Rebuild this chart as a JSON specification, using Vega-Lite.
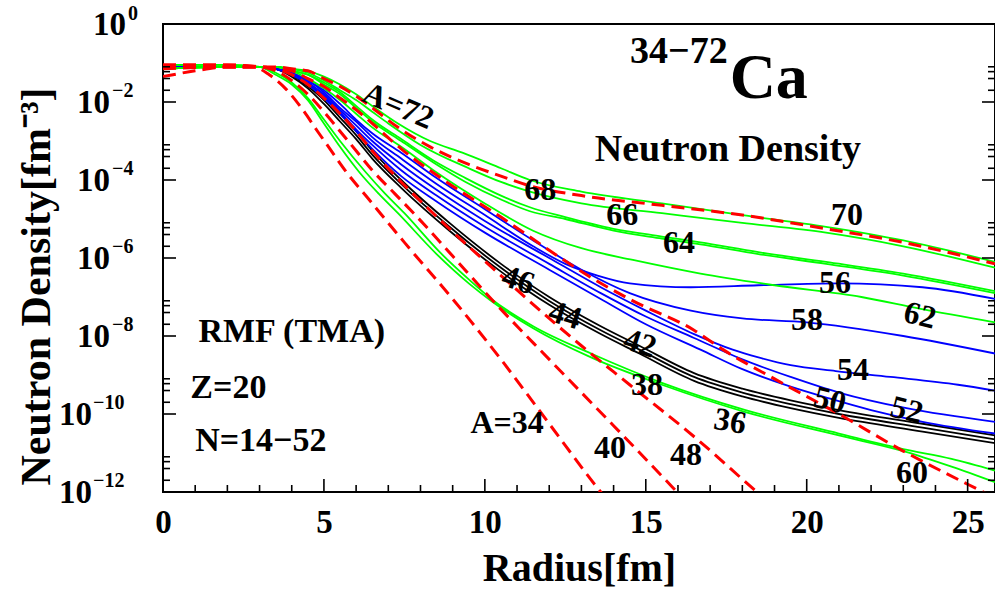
{
  "$schema": "https://vega.github.io/schema/vega-lite/v6.json",
  "width": 832,
  "height": 468,
  "autosize": "none",
  "padding": {"left": 163, "top": 24, "right": 0, "bottom": 98},
  "background": "white",
  "config": {"view": {"stroke": "black", "strokeWidth": 2}},
  "datasets": {
    "curves": [
      {"A":34,"r":0,"d":4.47e-2},{"A":34,"r":1,"d":6.31e-2},{"A":34,"r":2,"d":7.94e-2},{"A":34,"r":2.8,"d":7.94e-2},{"A":34,"r":3.3,"d":5.01e-2},{"A":34,"r":3.8,"d":2.24e-2},{"A":34,"r":4.3,"d":7.08e-3},{"A":34,"r":4.8,"d":1.78e-3},{"A":34,"r":5.1,"d":7.94e-4},{"A":34,"r":5.7,"d":1.58e-4},{"A":34,"r":6.35,"d":3.55e-5},{"A":34,"r":7.5,"d":2.51e-6},{"A":34,"r":9,"d":8.91e-8},{"A":34,"r":10.5,"d":2.51e-9},{"A":34,"r":12,"d":5.62e-11},{"A":34,"r":13.6,"d":1e-12},{"A":34,"r":14,"d":3.98e-13},
      {"A":36,"r":0,"d":8.91e-2},{"A":36,"r":2,"d":8.91e-2},{"A":36,"r":3,"d":7.94e-2},{"A":36,"r":3.5,"d":5.01e-2},{"A":36,"r":4,"d":2.82e-2},{"A":36,"r":4.5,"d":1.12e-2},{"A":36,"r":5,"d":2.82e-3},{"A":36,"r":5.5,"d":7.08e-4},{"A":36,"r":6.1,"d":1.58e-4},{"A":36,"r":6.7,"d":4.47e-5},{"A":36,"r":7.3,"d":1.41e-5},{"A":36,"r":8.5,"d":1.26e-6},{"A":36,"r":9.5,"d":2.24e-7},{"A":36,"r":10.2,"d":7.94e-8},{"A":36,"r":11.5,"d":1.58e-8},{"A":36,"r":13.3,"d":2.82e-9},{"A":36,"r":15.5,"d":5.62e-10},{"A":36,"r":18.1,"d":1.12e-10},{"A":36,"r":21,"d":2.82e-11},{"A":36,"r":23,"d":1.12e-11},{"A":36,"r":24.5,"d":4.47e-12},{"A":36,"r":25.85,"d":1.78e-12},
      {"A":38,"r":0,"d":8.91e-2},{"A":38,"r":2,"d":8.91e-2},{"A":38,"r":3,"d":7.94e-2},{"A":38,"r":3.5,"d":5.62e-2},{"A":38,"r":4,"d":3.16e-2},{"A":38,"r":4.5,"d":1.26e-2},{"A":38,"r":5,"d":3.55e-3},{"A":38,"r":5.5,"d":1e-3},{"A":38,"r":6.3,"d":1.58e-4},{"A":38,"r":6.9,"d":4.47e-5},{"A":38,"r":7.5,"d":1.41e-5},{"A":38,"r":8.6,"d":1.41e-6},{"A":38,"r":9.5,"d":2.82e-7},{"A":38,"r":10.2,"d":8.91e-8},{"A":38,"r":11.5,"d":1.78e-8},{"A":38,"r":13.3,"d":3.55e-9},{"A":38,"r":15.5,"d":6.31e-10},{"A":38,"r":18.1,"d":1.26e-10},{"A":38,"r":21,"d":3.16e-11},{"A":38,"r":23,"d":1.26e-11},{"A":38,"r":24.5,"d":7.08e-12},{"A":38,"r":25.85,"d":3.55e-12},
      {"A":40,"r":0,"d":8.91e-2},{"A":40,"r":2,"d":8.91e-2},{"A":40,"r":3,"d":7.94e-2},{"A":40,"r":3.5,"d":6.31e-2},{"A":40,"r":4,"d":3.55e-2},{"A":40,"r":4.5,"d":1.58e-2},{"A":40,"r":5,"d":5.62e-3},{"A":40,"r":5.5,"d":1.78e-3},{"A":40,"r":6,"d":5.62e-4},{"A":40,"r":6.5,"d":1.78e-4},{"A":40,"r":7.2,"d":4.47e-5},{"A":40,"r":7.9,"d":1.12e-5},{"A":40,"r":9,"d":1.12e-6},{"A":40,"r":10.2,"d":8.91e-8},{"A":40,"r":12,"d":2.51e-9},{"A":40,"r":14,"d":5.01e-11},{"A":40,"r":15.8,"d":1.41e-12},{"A":40,"r":16.2,"d":6.31e-13},
      {"A":42,"r":0,"d":7.94e-2},{"A":42,"r":2,"d":7.94e-2},{"A":42,"r":3,"d":7.94e-2},{"A":42,"r":3.5,"d":7.08e-2},{"A":42,"r":4,"d":4.47e-2},{"A":42,"r":4.5,"d":2.24e-2},{"A":42,"r":5,"d":8.91e-3},{"A":42,"r":5.5,"d":3.16e-3},{"A":42,"r":6,"d":1.12e-3},{"A":42,"r":6.5,"d":3.55e-4},{"A":42,"r":7.4,"d":6.31e-5},{"A":42,"r":8.9,"d":5.01e-6},{"A":42,"r":10.5,"d":4.47e-7},{"A":42,"r":12,"d":6.31e-8},{"A":42,"r":13.6,"d":1.12e-8},{"A":42,"r":14.8,"d":3.55e-9},{"A":42,"r":16.5,"d":7.08e-10},{"A":42,"r":18,"d":2.82e-10},{"A":42,"r":19.5,"d":1.41e-10},{"A":42,"r":21,"d":7.94e-11},{"A":42,"r":23.6,"d":3.55e-11},{"A":42,"r":25.85,"d":1.78e-11},
      {"A":44,"r":0,"d":7.94e-2},{"A":44,"r":2,"d":7.94e-2},{"A":44,"r":3,"d":7.94e-2},{"A":44,"r":3.5,"d":7.08e-2},{"A":44,"r":4,"d":5.01e-2},{"A":44,"r":4.5,"d":2.51e-2},{"A":44,"r":5,"d":1.12e-2},{"A":44,"r":5.5,"d":3.98e-3},{"A":44,"r":6,"d":1.41e-3},{"A":44,"r":6.5,"d":4.47e-4},{"A":44,"r":7.4,"d":7.94e-5},{"A":44,"r":8.9,"d":6.31e-6},{"A":44,"r":10.5,"d":5.62e-7},{"A":44,"r":12,"d":7.94e-8},{"A":44,"r":13.6,"d":1.41e-8},{"A":44,"r":14.8,"d":4.47e-9},{"A":44,"r":16.5,"d":8.91e-10},{"A":44,"r":18,"d":3.55e-10},{"A":44,"r":19.5,"d":1.78e-10},{"A":44,"r":21,"d":1e-10},{"A":44,"r":23.6,"d":4.47e-11},{"A":44,"r":25.85,"d":2.24e-11},
      {"A":46,"r":0,"d":7.94e-2},{"A":46,"r":2,"d":7.94e-2},{"A":46,"r":3,"d":7.94e-2},{"A":46,"r":3.5,"d":7.08e-2},{"A":46,"r":4,"d":5.62e-2},{"A":46,"r":4.5,"d":2.82e-2},{"A":46,"r":5,"d":1.41e-2},{"A":46,"r":5.5,"d":5.01e-3},{"A":46,"r":6,"d":1.78e-3},{"A":46,"r":6.5,"d":5.62e-4},{"A":46,"r":7.4,"d":1e-4},{"A":46,"r":8.9,"d":7.94e-6},{"A":46,"r":10.5,"d":7.08e-7},{"A":46,"r":12,"d":1e-7},{"A":46,"r":13.6,"d":1.78e-8},{"A":46,"r":14.8,"d":5.62e-9},{"A":46,"r":16.5,"d":1.12e-9},{"A":46,"r":18,"d":4.47e-10},{"A":46,"r":19.5,"d":2.24e-10},{"A":46,"r":21,"d":1.26e-10},{"A":46,"r":23.6,"d":5.62e-11},{"A":46,"r":25.85,"d":2.82e-11},
      {"A":48,"r":0,"d":8.91e-2},{"A":48,"r":2,"d":8.91e-2},{"A":48,"r":3,"d":7.94e-2},{"A":48,"r":3.5,"d":7.08e-2},{"A":48,"r":4,"d":5.01e-2},{"A":48,"r":4.5,"d":2.82e-2},{"A":48,"r":5,"d":1.26e-2},{"A":48,"r":5.5,"d":5.01e-3},{"A":48,"r":6,"d":1.78e-3},{"A":48,"r":6.5,"d":5.62e-4},{"A":48,"r":7.4,"d":8.91e-5},{"A":48,"r":8.2,"d":2.0e-5},{"A":48,"r":8.9,"d":5.62e-6},{"A":48,"r":10.5,"d":3.55e-7},{"A":48,"r":12,"d":2.82e-8},{"A":48,"r":13,"d":5.62e-9},{"A":48,"r":14.5,"d":5.62e-10},{"A":48,"r":16.6,"d":2.24e-11},{"A":48,"r":18.45,"d":1e-12},{"A":48,"r":18.8,"d":5.62e-13},
      {"A":50,"r":0,"d":7.94e-2},{"A":50,"r":2,"d":7.94e-2},{"A":50,"r":3,"d":7.94e-2},{"A":50,"r":3.5,"d":7.08e-2},{"A":50,"r":4,"d":5.01e-2},{"A":50,"r":4.5,"d":2.82e-2},{"A":50,"r":5,"d":1.26e-2},{"A":50,"r":5.5,"d":5.01e-3},{"A":50,"r":6,"d":1.78e-3},{"A":50,"r":6.5,"d":6.31e-4},{"A":50,"r":7.4,"d":1.26e-4},{"A":50,"r":8.5,"d":2.82e-5},{"A":50,"r":10,"d":4.47e-6},{"A":50,"r":12,"d":5.01e-7},{"A":50,"r":13.6,"d":8.91e-8},{"A":50,"r":15,"d":2.0e-8},{"A":50,"r":16.7,"d":4.47e-9},{"A":50,"r":18,"d":1.41e-9},{"A":50,"r":19.5,"d":5.01e-10},{"A":50,"r":20.7,"d":2.51e-10},{"A":50,"r":22,"d":1.26e-10},{"A":50,"r":23.6,"d":6.31e-11},{"A":50,"r":25.85,"d":3.16e-11},
      {"A":52,"r":0,"d":7.94e-2},{"A":52,"r":2,"d":7.94e-2},{"A":52,"r":3,"d":7.94e-2},{"A":52,"r":3.5,"d":7.08e-2},{"A":52,"r":4,"d":5.01e-2},{"A":52,"r":4.5,"d":3.16e-2},{"A":52,"r":5,"d":1.41e-2},{"A":52,"r":5.5,"d":5.62e-3},{"A":52,"r":6,"d":2.0e-3},{"A":52,"r":6.5,"d":7.94e-4},{"A":52,"r":7.4,"d":1.78e-4},{"A":52,"r":8.5,"d":3.98e-5},{"A":52,"r":10,"d":6.31e-6},{"A":52,"r":12,"d":7.08e-7},{"A":52,"r":13.6,"d":1.26e-7},{"A":52,"r":15,"d":3.16e-8},{"A":52,"r":16.5,"d":8.91e-9},{"A":52,"r":18,"d":2.51e-9},{"A":52,"r":19.5,"d":8.91e-10},{"A":52,"r":21,"d":3.55e-10},{"A":52,"r":23.1,"d":1.41e-10},{"A":52,"r":25.85,"d":6.31e-11},
      {"A":54,"r":0,"d":7.94e-2},{"A":54,"r":2,"d":7.94e-2},{"A":54,"r":3,"d":7.94e-2},{"A":54,"r":3.5,"d":7.08e-2},{"A":54,"r":4,"d":5.62e-2},{"A":54,"r":4.5,"d":3.16e-2},{"A":54,"r":5,"d":1.58e-2},{"A":54,"r":5.5,"d":6.31e-3},{"A":54,"r":6,"d":2.51e-3},{"A":54,"r":6.5,"d":1e-3},{"A":54,"r":7.4,"d":2.51e-4},{"A":54,"r":8.5,"d":5.62e-5},{"A":54,"r":10,"d":8.91e-6},{"A":54,"r":12,"d":1e-6},{"A":54,"r":13.6,"d":1.78e-7},{"A":54,"r":15,"d":4.47e-8},{"A":54,"r":16.5,"d":1.12e-8},{"A":54,"r":17.7,"d":4.47e-9},{"A":54,"r":18.5,"d":2.82e-9},{"A":54,"r":19.5,"d":1.78e-9},{"A":54,"r":20.9,"d":1.26e-9},{"A":54,"r":22.6,"d":8.91e-10},{"A":54,"r":24.7,"d":5.62e-10},{"A":54,"r":25.85,"d":3.98e-10},
      {"A":56,"r":0,"d":7.94e-2},{"A":56,"r":2,"d":7.94e-2},{"A":56,"r":3,"d":7.94e-2},{"A":56,"r":3.5,"d":7.08e-2},{"A":56,"r":4,"d":5.62e-2},{"A":56,"r":4.5,"d":3.55e-2},{"A":56,"r":5,"d":1.78e-2},{"A":56,"r":5.5,"d":7.08e-3},{"A":56,"r":6,"d":3.16e-3},{"A":56,"r":6.5,"d":1.26e-3},{"A":56,"r":7.4,"d":3.55e-4},{"A":56,"r":8.5,"d":7.94e-5},{"A":56,"r":10,"d":1.26e-5},{"A":56,"r":11.5,"d":2.0e-6},{"A":56,"r":12.5,"d":7.08e-7},{"A":56,"r":13.5,"d":3.55e-7},{"A":56,"r":14.5,"d":2.24e-7},{"A":56,"r":16.4,"d":1.78e-7},{"A":56,"r":18.5,"d":2.0e-7},{"A":56,"r":21,"d":2.24e-7},{"A":56,"r":23.6,"d":1.78e-7},{"A":56,"r":25.85,"d":8.91e-8},
      {"A":58,"r":0,"d":7.94e-2},{"A":58,"r":2,"d":7.94e-2},{"A":58,"r":3,"d":7.94e-2},{"A":58,"r":3.5,"d":7.08e-2},{"A":58,"r":4,"d":5.62e-2},{"A":58,"r":4.5,"d":3.55e-2},{"A":58,"r":5,"d":2.0e-2},{"A":58,"r":5.5,"d":8.91e-3},{"A":58,"r":6,"d":3.55e-3},{"A":58,"r":6.5,"d":1.58e-3},{"A":58,"r":7.4,"d":5.01e-4},{"A":58,"r":8.5,"d":1.12e-4},{"A":58,"r":10,"d":1.78e-5},{"A":58,"r":11.5,"d":2.82e-6},{"A":58,"r":13,"d":5.01e-7},{"A":58,"r":14.5,"d":1.26e-7},{"A":58,"r":16.4,"d":4.47e-8},{"A":58,"r":18,"d":2.82e-8},{"A":58,"r":20,"d":2.24e-8},{"A":58,"r":23,"d":1e-8},{"A":58,"r":25.85,"d":3.55e-9},
      {"A":60,"r":0,"d":7.94e-2},{"A":60,"r":2,"d":7.94e-2},{"A":60,"r":3,"d":7.94e-2},{"A":60,"r":3.5,"d":7.08e-2},{"A":60,"r":4,"d":6.31e-2},{"A":60,"r":4.5,"d":3.98e-2},{"A":60,"r":5,"d":2.51e-2},{"A":60,"r":5.5,"d":1.26e-2},{"A":60,"r":6,"d":6.31e-3},{"A":60,"r":6.5,"d":2.82e-3},{"A":60,"r":7.4,"d":6.31e-4},{"A":60,"r":8.9,"d":7.94e-5},{"A":60,"r":10.5,"d":1.12e-5},{"A":60,"r":12,"d":1.58e-6},{"A":60,"r":13.3,"d":3.16e-7},{"A":60,"r":14.6,"d":7.94e-8},{"A":60,"r":16.5,"d":1.41e-8},{"A":60,"r":17.4,"d":4.47e-9},{"A":60,"r":19,"d":7.94e-10},{"A":60,"r":21,"d":1e-10},{"A":60,"r":23,"d":1.12e-11},{"A":60,"r":25,"d":1.58e-12},{"A":60,"r":25.85,"d":7.08e-13},
      {"A":62,"r":0,"d":7.08e-2},{"A":62,"r":2,"d":7.94e-2},{"A":62,"r":3,"d":7.94e-2},{"A":62,"r":3.5,"d":7.94e-2},{"A":62,"r":4,"d":6.31e-2},{"A":62,"r":4.5,"d":3.98e-2},{"A":62,"r":5,"d":2.24e-2},{"A":62,"r":5.5,"d":1.12e-2},{"A":62,"r":6,"d":5.01e-3},{"A":62,"r":6.5,"d":2.24e-3},{"A":62,"r":7.4,"d":7.08e-4},{"A":62,"r":8.4,"d":1.78e-4},{"A":62,"r":10,"d":2.51e-5},{"A":62,"r":11.5,"d":5.01e-6},{"A":62,"r":13,"d":1.78e-6},{"A":62,"r":14.6,"d":8.91e-7},{"A":62,"r":16.7,"d":3.98e-7},{"A":62,"r":19,"d":2.0e-7},{"A":62,"r":21.7,"d":1e-7},{"A":62,"r":23.5,"d":5.01e-8},{"A":62,"r":25.85,"d":2.24e-8},
      {"A":64,"r":0,"d":7.08e-2},{"A":64,"r":2,"d":7.94e-2},{"A":64,"r":3,"d":7.94e-2},{"A":64,"r":3.5,"d":7.94e-2},{"A":64,"r":4,"d":6.31e-2},{"A":64,"r":4.5,"d":5.01e-2},{"A":64,"r":5,"d":2.82e-2},{"A":64,"r":5.5,"d":1.58e-2},{"A":64,"r":6,"d":7.08e-3},{"A":64,"r":6.5,"d":3.16e-3},{"A":64,"r":7.4,"d":1e-3},{"A":64,"r":8.4,"d":2.82e-4},{"A":64,"r":9.4,"d":8.91e-5},{"A":64,"r":10.5,"d":3.16e-5},{"A":64,"r":11.4,"d":1.58e-5},{"A":64,"r":12.5,"d":1e-5},{"A":64,"r":14,"d":5.01e-6},{"A":64,"r":15.5,"d":3.16e-6},{"A":64,"r":16.7,"d":2.24e-6},{"A":64,"r":18.5,"d":1.26e-6},{"A":64,"r":20.6,"d":7.08e-7},{"A":64,"r":23,"d":3.55e-7},{"A":64,"r":25.85,"d":1.26e-7},
      {"A":66,"r":0,"d":7.08e-2},{"A":66,"r":2,"d":7.94e-2},{"A":66,"r":3,"d":7.94e-2},{"A":66,"r":3.5,"d":7.94e-2},{"A":66,"r":4,"d":6.31e-2},{"A":66,"r":4.5,"d":5.01e-2},{"A":66,"r":5,"d":3.16e-2},{"A":66,"r":5.5,"d":1.78e-2},{"A":66,"r":6,"d":7.94e-3},{"A":66,"r":6.5,"d":3.55e-3},{"A":66,"r":7.4,"d":1.12e-3},{"A":66,"r":8.4,"d":3.16e-4},{"A":66,"r":9.4,"d":1.12e-4},{"A":66,"r":10.5,"d":3.98e-5},{"A":66,"r":11.4,"d":2.0e-5},{"A":66,"r":12.5,"d":1.12e-5},{"A":66,"r":14,"d":5.62e-6},{"A":66,"r":15.5,"d":3.55e-6},{"A":66,"r":16.7,"d":2.51e-6},{"A":66,"r":18.5,"d":1.41e-6},{"A":66,"r":20.6,"d":7.94e-7},{"A":66,"r":23,"d":3.98e-7},{"A":66,"r":25.85,"d":1.41e-7},
      {"A":68,"r":0,"d":7.08e-2},{"A":68,"r":2,"d":7.94e-2},{"A":68,"r":3,"d":7.94e-2},{"A":68,"r":3.5,"d":7.94e-2},{"A":68,"r":4,"d":7.08e-2},{"A":68,"r":4.5,"d":5.62e-2},{"A":68,"r":5,"d":3.55e-2},{"A":68,"r":5.5,"d":2.0e-2},{"A":68,"r":6,"d":1.12e-2},{"A":68,"r":6.5,"d":5.62e-3},{"A":68,"r":7,"d":2.82e-3},{"A":68,"r":8,"d":7.94e-4},{"A":68,"r":9.5,"d":2.0e-4},{"A":68,"r":10.5,"d":8.91e-5},{"A":68,"r":11.4,"d":5.01e-5},{"A":68,"r":13,"d":2.51e-5},{"A":68,"r":15.5,"d":1.41e-5},{"A":68,"r":18,"d":7.94e-6},{"A":68,"r":20.6,"d":4.47e-6},{"A":68,"r":23,"d":2.0e-6},{"A":68,"r":25.85,"d":5.62e-7},
      {"A":70,"r":0,"d":7.08e-2},{"A":70,"r":2,"d":7.94e-2},{"A":70,"r":3,"d":7.94e-2},{"A":70,"r":3.5,"d":7.94e-2},{"A":70,"r":4,"d":7.08e-2},{"A":70,"r":4.5,"d":6.31e-2},{"A":70,"r":5,"d":3.98e-2},{"A":70,"r":5.5,"d":2.51e-2},{"A":70,"r":6,"d":1.41e-2},{"A":70,"r":6.5,"d":7.08e-3},{"A":70,"r":7.3,"d":2.24e-3},{"A":70,"r":8.3,"d":7.08e-4},{"A":70,"r":9.5,"d":2.51e-4},{"A":70,"r":10.5,"d":1.26e-4},{"A":70,"r":11.4,"d":7.08e-5},{"A":70,"r":13,"d":3.98e-5},{"A":70,"r":15.5,"d":2.24e-5},{"A":70,"r":18,"d":1.26e-5},{"A":70,"r":20.6,"d":5.62e-6},{"A":70,"r":23,"d":2.51e-6},{"A":70,"r":25.85,"d":7.08e-7},
      {"A":72,"r":0,"d":7.08e-2},{"A":72,"r":2,"d":7.94e-2},{"A":72,"r":3,"d":7.94e-2},{"A":72,"r":3.5,"d":7.94e-2},{"A":72,"r":4,"d":7.08e-2},{"A":72,"r":4.5,"d":6.31e-2},{"A":72,"r":5,"d":4.47e-2},{"A":72,"r":5.5,"d":2.82e-2},{"A":72,"r":6,"d":1.58e-2},{"A":72,"r":6.5,"d":7.94e-3},{"A":72,"r":7.3,"d":2.82e-3},{"A":72,"r":8.3,"d":1e-3},{"A":72,"r":9.3,"d":5.01e-4},{"A":72,"r":10.5,"d":2.0e-4},{"A":72,"r":11.4,"d":1e-4},{"A":72,"r":13,"d":5.01e-5},{"A":72,"r":15.5,"d":2.51e-5},{"A":72,"r":18,"d":1.26e-5},{"A":72,"r":20.6,"d":6.31e-6},{"A":72,"r":23,"d":2.82e-6},{"A":72,"r":25.85,"d":7.94e-7}
    ],
    "xmajor": [{"r":0},{"r":5},{"r":10},{"r":15},{"r":20},{"r":25}],
    "xminor": [{"r":1},{"r":2},{"r":3},{"r":4},{"r":6},{"r":7},{"r":8},{"r":9},{"r":11},{"r":12},{"r":13},{"r":14},{"r":16},{"r":17},{"r":18},{"r":19},{"r":21},{"r":22},{"r":23},{"r":24}],
    "ymajor": [{"d":1e-12},{"d":1e-10},{"d":1e-8},{"d":1e-6},{"d":1e-4},{"d":1e-2},{"d":1}],
    "yminor": [{"d":2e-12},{"d":4e-12},{"d":6e-12},{"d":8e-12},{"d":2e-10},{"d":4e-10},{"d":6e-10},{"d":8e-10},{"d":2e-8},{"d":4e-8},{"d":6e-8},{"d":8e-8},{"d":2e-6},{"d":4e-6},{"d":6e-6},{"d":8e-6},{"d":2e-4},{"d":4e-4},{"d":6e-4},{"d":8e-4},{"d":2e-2},{"d":4e-2},{"d":6e-2},{"d":8e-2}],
    "ylabMid": [{"d":1e-2,"e":"−2"},{"d":1e-4,"e":"−4"},{"d":1e-6,"e":"−6"},{"d":1e-8,"e":"−8"}],
    "ylabLow": [{"d":1e-10,"e":"−10"},{"d":1e-12,"e":"−12"}],
    "ylabTop": [{"d":1,"e":"0"}],
    "lab0": [
      {"t":"68","r":11.72,"d":5.50e-5},{"t":"66","r":14.27,"d":1.26e-5},{"t":"64","r":16.03,"d":2.40e-6},{"t":"70","r":21.25,"d":1.26e-5},
      {"t":"56","r":20.88,"d":2.24e-7},{"t":"58","r":20.01,"d":2.51e-8},{"t":"54","r":21.44,"d":1.32e-9},{"t":"38","r":15.04,"d":5.50e-10},
      {"t":"40","r":13.89,"d":1.32e-11},{"t":"48","r":16.25,"d":8.71e-12},{"t":"60","r":23.27,"d":3.02e-12},{"t":"A=34","r":10.69,"d":5.75e-11}
    ],
    "lab18": [{"t":"46","r":11.04,"d":2.69e-7},{"t":"44","r":12.49,"d":3.39e-8},{"t":"42","r":14.82,"d":6.46e-9}],
    "lab14": [{"t":"50","r":20.72,"d":2.24e-10},{"t":"52","r":23.11,"d":1.26e-10},{"t":"62","r":23.52,"d":3.39e-8}],
    "lab10": [{"t":"36","r":17.62,"d":6.46e-11}],
    "lab23": [{"t":"A=72","r":7.31,"d":7.94e-3}],
    "heading": [{"t":"34−72","r":16.03,"d":0.191},{"t":"Neutron Density","r":17.55,"d":5.89e-4}],
    "element": [{"t":"Ca","r":18.82,"d":0.0389}],
    "notes": [{"t":"RMF (TMA)","r":1.1,"d":1.26e-8},{"t":"Z=20","r":0.85,"d":4.68e-10},{"t":"N=14−52","r":1.0,"d":2.04e-11}]
  },
  "layer": [
    {
      "data": {"name": "curves"},
      "transform": [{"filter": "indexof([34,40,48,60,70], datum.A) < 0"}],
      "mark": {"type": "line", "interpolate": "monotone", "clip": true, "strokeWidth": 1.8},
      "encoding": {
        "x": {"field": "r", "type": "quantitative",
          "scale": {"domain": [0, 25.85], "nice": false, "zero": false},
          "axis": {"values": [0,5,10,15,20,25], "ticks": false, "domain": false, "grid": false,
            "labelFont": "Liberation Serif", "labelFontSize": 33, "labelFontWeight": "bold", "labelColor": "black",
            "labelPadding": 14, "labelFlush": false, "labelOverlap": false,
            "title": "Radius[fm]", "titleFont": "Liberation Serif", "titleFontSize": 40, "titleFontWeight": "bold",
            "titleColor": "black", "titleBaseline": "alphabetic", "titleY": 88}},
        "y": {"field": "d", "type": "quantitative",
          "scale": {"type": "log", "domain": [1e-12, 1], "nice": false},
          "axis": {"labels": false, "ticks": false, "domain": false, "grid": false,
            "title": "Neutron Density[fm⁻³]", "titleFont": "Liberation Serif", "titleFontSize": 42, "titleFontWeight": "bold",
            "titleColor": "black", "titleAngle": -90, "titleAlign": "center", "titleBaseline": "middle",
            "titleX": -127, "titleY": 262}},
        "detail": {"field": "A", "type": "nominal"},
        "color": {"field": "A", "type": "nominal", "legend": null,
          "scale": {"domain": [34,36,38,40,42,44,46,48,50,52,54,56,58,60,62,64,66,68,70,72],
            "range": ["#ff0000","#00ff00","#00ff00","#ff0000","#000000","#000000","#000000","#ff0000","#0000ff","#0000ff","#0000ff","#0000ff","#0000ff","#ff0000","#00ff00","#00ff00","#00ff00","#00ff00","#ff0000","#00ff00"]}}
      }
    },
    {
      "data": {"name": "curves"},
      "transform": [{"filter": "indexof([34,40,48,60,70], datum.A) >= 0"}],
      "mark": {"type": "line", "interpolate": "monotone", "clip": true, "strokeWidth": 3, "strokeDash": [13, 7], "color": "#ff0000"},
      "encoding": {
        "x": {"field": "r", "type": "quantitative"},
        "y": {"field": "d", "type": "quantitative"},
        "detail": {"field": "A", "type": "nominal"}
      }
    },
    {
      "data": {"name": "xmajor"},
      "mark": {"type": "tick", "orient": "vertical", "size": 26, "thickness": 1.6, "color": "black", "opacity": 1, "clip": true},
      "encoding": {"x": {"field": "r", "type": "quantitative"}, "y": {"datum": 1e-12}}
    },
    {
      "data": {"name": "xminor"},
      "mark": {"type": "tick", "orient": "vertical", "size": 14, "thickness": 1.6, "color": "black", "opacity": 1, "clip": true},
      "encoding": {"x": {"field": "r", "type": "quantitative"}, "y": {"datum": 1e-12}}
    },
    {
      "data": {"name": "ymajor"},
      "mark": {"type": "tick", "orient": "horizontal", "size": 26, "thickness": 1.6, "color": "black", "opacity": 1, "clip": true},
      "encoding": {"x": {"datum": 0}, "y": {"field": "d", "type": "quantitative"}}
    },
    {
      "data": {"name": "ymajor"},
      "mark": {"type": "tick", "orient": "horizontal", "size": 26, "thickness": 1.6, "color": "black", "opacity": 1, "clip": true},
      "encoding": {"x": {"datum": 25.85}, "y": {"field": "d", "type": "quantitative"}}
    },
    {
      "data": {"name": "yminor"},
      "mark": {"type": "tick", "orient": "horizontal", "size": 14, "thickness": 1.6, "color": "black", "opacity": 1, "clip": true},
      "encoding": {"x": {"datum": 0}, "y": {"field": "d", "type": "quantitative"}}
    },
    {
      "data": {"name": "yminor"},
      "mark": {"type": "tick", "orient": "horizontal", "size": 14, "thickness": 1.6, "color": "black", "opacity": 1, "clip": true},
      "encoding": {"x": {"datum": 25.85}, "y": {"field": "d", "type": "quantitative"}}
    },
    {
      "data": {"name": "ylabMid"},
      "mark": {"type": "text", "align": "right", "baseline": "middle", "dx": -53, "dy": 1, "font": "Liberation Serif", "fontSize": 33, "fontWeight": "bold", "color": "black"},
      "encoding": {"x": {"datum": 0}, "y": {"field": "d", "type": "quantitative"}, "text": {"value": "10"}}
    },
    {
      "data": {"name": "ylabMid"},
      "mark": {"type": "text", "align": "left", "baseline": "middle", "dx": -51, "dy": -11, "font": "Liberation Serif", "fontSize": 20, "fontWeight": "bold", "color": "black"},
      "encoding": {"x": {"datum": 0}, "y": {"field": "d", "type": "quantitative"}, "text": {"field": "e"}}
    },
    {
      "data": {"name": "ylabLow"},
      "mark": {"type": "text", "align": "right", "baseline": "middle", "dx": -71, "dy": 1, "font": "Liberation Serif", "fontSize": 33, "fontWeight": "bold", "color": "black"},
      "encoding": {"x": {"datum": 0}, "y": {"field": "d", "type": "quantitative"}, "text": {"value": "10"}}
    },
    {
      "data": {"name": "ylabLow"},
      "mark": {"type": "text", "align": "left", "baseline": "middle", "dx": -70, "dy": -11, "font": "Liberation Serif", "fontSize": 20, "fontWeight": "bold", "color": "black"},
      "encoding": {"x": {"datum": 0}, "y": {"field": "d", "type": "quantitative"}, "text": {"field": "e"}}
    },
    {
      "data": {"name": "ylabTop"},
      "mark": {"type": "text", "align": "right", "baseline": "middle", "dx": -37, "dy": 1, "font": "Liberation Serif", "fontSize": 33, "fontWeight": "bold", "color": "black"},
      "encoding": {"x": {"datum": 0}, "y": {"field": "d", "type": "quantitative"}, "text": {"value": "10"}}
    },
    {
      "data": {"name": "ylabTop"},
      "mark": {"type": "text", "align": "left", "baseline": "middle", "dx": -35, "dy": -10, "font": "Liberation Serif", "fontSize": 20, "fontWeight": "bold", "color": "black"},
      "encoding": {"x": {"datum": 0}, "y": {"field": "d", "type": "quantitative"}, "text": {"field": "e"}}
    },
    {
      "data": {"name": "lab0"},
      "mark": {"type": "text", "align": "center", "baseline": "middle", "font": "Liberation Serif", "fontSize": 32, "fontWeight": "bold", "color": "black"},
      "encoding": {"x": {"field": "r", "type": "quantitative"}, "y": {"field": "d", "type": "quantitative"}, "text": {"field": "t"}}
    },
    {
      "data": {"name": "lab18"},
      "mark": {"type": "text", "align": "center", "baseline": "middle", "angle": 18, "font": "Liberation Serif", "fontSize": 32, "fontWeight": "bold", "color": "black"},
      "encoding": {"x": {"field": "r", "type": "quantitative"}, "y": {"field": "d", "type": "quantitative"}, "text": {"field": "t"}}
    },
    {
      "data": {"name": "lab14"},
      "mark": {"type": "text", "align": "center", "baseline": "middle", "angle": 14, "font": "Liberation Serif", "fontSize": 32, "fontWeight": "bold", "color": "black"},
      "encoding": {"x": {"field": "r", "type": "quantitative"}, "y": {"field": "d", "type": "quantitative"}, "text": {"field": "t"}}
    },
    {
      "data": {"name": "lab10"},
      "mark": {"type": "text", "align": "center", "baseline": "middle", "angle": 10, "font": "Liberation Serif", "fontSize": 32, "fontWeight": "bold", "color": "black"},
      "encoding": {"x": {"field": "r", "type": "quantitative"}, "y": {"field": "d", "type": "quantitative"}, "text": {"field": "t"}}
    },
    {
      "data": {"name": "lab23"},
      "mark": {"type": "text", "align": "center", "baseline": "middle", "angle": 23, "font": "Liberation Serif", "fontSize": 32, "fontWeight": "bold", "color": "black"},
      "encoding": {"x": {"field": "r", "type": "quantitative"}, "y": {"field": "d", "type": "quantitative"}, "text": {"field": "t"}}
    },
    {
      "data": {"name": "heading"},
      "mark": {"type": "text", "align": "center", "baseline": "middle", "font": "Liberation Serif", "fontSize": 38, "fontWeight": "bold", "color": "black"},
      "encoding": {"x": {"field": "r", "type": "quantitative"}, "y": {"field": "d", "type": "quantitative"}, "text": {"field": "t"}}
    },
    {
      "data": {"name": "element"},
      "mark": {"type": "text", "align": "center", "baseline": "middle", "font": "Liberation Serif", "fontSize": 64, "fontWeight": "bold", "color": "black"},
      "encoding": {"x": {"field": "r", "type": "quantitative"}, "y": {"field": "d", "type": "quantitative"}, "text": {"field": "t"}}
    },
    {
      "data": {"name": "notes"},
      "mark": {"type": "text", "align": "left", "baseline": "middle", "font": "Liberation Serif", "fontSize": 34, "fontWeight": "bold", "color": "black"},
      "encoding": {"x": {"field": "r", "type": "quantitative"}, "y": {"field": "d", "type": "quantitative"}, "text": {"field": "t"}}
    }
  ]
}
